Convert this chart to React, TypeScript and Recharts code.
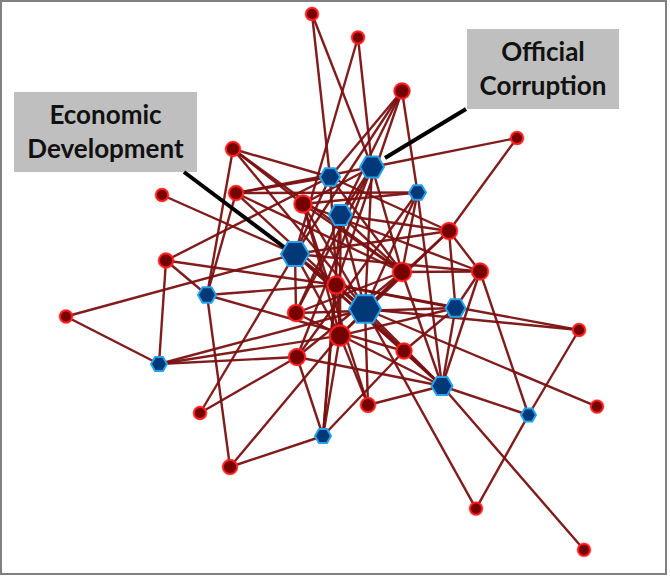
import React from 'react';
import { ScatterChart, Scatter, XAxis, YAxis, ReferenceLine, ReferenceArea } from 'recharts';

// node layout (x, y in layout units), w = relative importance
const redNodes = [
  { id: 'a', x: 312, y: 14, w: 6 },
  { id: 'b', x: 358, y: 37.5, w: 6 },
  { id: 'c', x: 402, y: 91, w: 7.5 },
  { id: 'd', x: 517, y: 138, w: 6 },
  { id: 'e', x: 233, y: 149, w: 7 },
  { id: 'f', x: 162, y: 195, w: 6 },
  { id: 'g', x: 236, y: 193, w: 7 },
  { id: 'h', x: 303, y: 204, w: 8.5 },
  { id: 'i', x: 449, y: 231, w: 8 },
  { id: 'j', x: 166, y: 260.5, w: 7 },
  { id: 'k', x: 402, y: 272, w: 9 },
  { id: 'l', x: 480, y: 271.5, w: 8 },
  { id: 'm', x: 336, y: 285, w: 8.5 },
  { id: 'n', x: 66, y: 316.5, w: 6 },
  { id: 'o', x: 296, y: 313, w: 8 },
  { id: 'p', x: 340, y: 335.6, w: 10 },
  { id: 'q', x: 579, y: 330, w: 6 },
  { id: 'r', x: 404, y: 351, w: 7.5 },
  { id: 's', x: 297, y: 357, w: 8 },
  { id: 't', x: 368, y: 405, w: 7 },
  { id: 'u', x: 597, y: 406.6, w: 6 },
  { id: 'v', x: 200, y: 413, w: 6 },
  { id: 'w', x: 230, y: 467, w: 7 },
  { id: 'x', x: 476, y: 508.6, w: 6 },
  { id: 'y', x: 584, y: 549.8, w: 6 },
];

const blueNodes = [
  { id: 'B1', x: 372, y: 167, w: 12 },
  { id: 'B2', x: 330, y: 177, w: 10 },
  { id: 'B3', x: 417.5, y: 192.5, w: 8.5 },
  { id: 'B4', x: 340.5, y: 215, w: 11.5 },
  { id: 'B5', x: 295, y: 254, w: 14 },
  { id: 'B6', x: 207, y: 295, w: 9 },
  { id: 'B7', x: 365, y: 309, w: 16 },
  { id: 'B8', x: 455.5, y: 308, w: 10 },
  { id: 'B9', x: 159, y: 364, w: 8 },
  { id: 'B10', x: 442, y: 386, w: 10.5 },
  { id: 'B11', x: 528.5, y: 415, w: 7.5 },
  { id: 'B12', x: 323, y: 436, w: 8 },
];

const edges: [string, string][] = [
  ['a', 'B2'], ['a', 'B1'], ['b', 'B5'], ['b', 'B1'],
  ['c', 'B2'], ['c', 'B5'], ['c', 'B4'], ['c', 'm'], ['c', 'B3'],
  ['d', 'B1'], ['d', 'i'],
  ['e', 'B6'], ['e', 'B2'], ['e', 'h'], ['e', 'k'], ['e', 'B7'],
  ['f', 'B5'],
  ['g', 'B3'], ['g', 'B2'], ['g', 'B6'], ['g', 'm'], ['g', 'k'],
  ['j', 'B2'], ['j', 'B6'], ['j', 'B9'], ['j', 'm'],
  ['n', 'B5'], ['n', 'B9'],
  ['B9', 's'], ['B9', 'p'], ['B9', 'B7'],
  ['B6', 'm'], ['B6', 'r'], ['B6', 'w'],
  ['v', 's'], ['v', 'B5'],
  ['w', 'B12'], ['w', 'p'],
  ['B12', 's'], ['B12', 'p'], ['B12', 'm'], ['B12', 'r'], ['B12', 'B4'],
  ['t', 'B10'], ['t', 'B7'], ['t', 'p'], ['t', 'h'],
  ['x', 'B11'], ['x', 'B7'], ['y', 'B10'], ['u', 'B7'],
  ['q', 'B7'], ['q', 'm'], ['q', 'B11'],
  ['B11', 'l'], ['B11', 'B10'],
  ['l', 'B10'], ['l', 'i'], ['l', 'k'], ['l', 'B5'], ['l', 'h'], ['l', 'B8'],
  ['i', 'B4'], ['i', 'B2'], ['i', 'B5'], ['i', 'p'], ['i', 'B7'],
  ['B1', 'B4'], ['B1', 'B7'], ['B1', 'k'], ['B1', 'o'], ['B1', 'g'], ['B1', 'h'], ['B1', 's'],
  ['B2', 'k'], ['B2', 'p'], ['B2', 'B5'],
  ['B3', 'h'], ['B3', 'k'], ['B3', 'B7'], ['B3', 'B10'], ['B3', 's'],
  ['B4', 'k'], ['B4', 'p'], ['B4', 'B7'], ['B4', 'o'],
  ['B5', 'B7'], ['B5', 'p'], ['B5', 'B10'], ['B5', 'r'], ['B5', 'o'],
  ['h', 'B7'], ['h', 'p'], ['h', 'k'],
  ['o', 'B8'], ['o', 'k'], ['o', 'B10'],
  ['s', 'k'], ['s', 'B10'],
  ['m', 'B10'], ['m', 'B8'],
  ['r', 'B8'], ['r', 'B10'], ['k', 'B10'], ['p', 'B8'],
  ['B8', 'B10'], ['B8', 'i'], ['B7', 'B10'], ['k', 'p'], ['m', 'B7'],
];

const callouts = [
  { lines: ['Economic', 'Development'], x1: 14, x2: 197, y1: 92, y2: 172, ax: 184, ay: 172, bx: 292, by: 253 },
  { lines: ['Official', 'Corruption'], x1: 467, x2: 619, y1: 29, y2: 109, ax: 466, ay: 109, bx: 385, by: 158 },
];

const allNodes = [...redNodes, ...blueNodes];
const find = (id: string) => allNodes.find((n) => n.id === id)!;

const RedDot = (props: any) => {
  const { cx, cy, payload } = props;
  const r = payload.w;
  return (
    <g>
      <circle cx={cx} cy={cy} r={r + 1.6} fill="#ff2a2a" opacity={0.4} />
      <circle cx={cx} cy={cy} r={r} fill="#760000" stroke="#ff1c1c" strokeWidth={1.8} />
    </g>
  );
};

const BlueHex = (props: any) => {
  const { cx, cy, payload } = props;
  const r = payload.w;
  const pts = [0, 60, 120, 180, 240, 300]
    .map((a) => {
      const t = (a * Math.PI) / 180;
      return `${cx + r * Math.cos(t)},${cy + r * Math.sin(t)}`;
    })
    .join(' ');
  return <polygon points={pts} fill="#003878" stroke="#25a2ec" strokeWidth={2} strokeLinejoin="round" />;
};

const boxLabel = (lines: string[]) => (props: any) => {
  const { viewBox } = props;
  const cx = viewBox.x + viewBox.width / 2;
  const top = viewBox.y;
  return (
    <text
      x={cx}
      y={top}
      textAnchor="middle"
      fontFamily="Lato, 'Open Sans', sans-serif"
      fontWeight={700}
      fontSize={26}
      fill="#111"
    >
      <tspan x={cx} dy={32}>{lines[0]}</tspan>
      <tspan x={cx} dy={34}>{lines[1]}</tspan>
    </text>
  );
};

export default function App() {
  return (
    <div style={{ position: 'absolute', left: 0, top: 0, width: 670, height: 577, background: '#fff' }}>
      <ScatterChart width={670} height={577} margin={{ top: 0, right: 0, bottom: 0, left: 0 }}>
        <XAxis type="number" dataKey="x" domain={[0, 670]} hide />
        <YAxis type="number" dataKey="y" domain={[0, 577]} reversed hide />
        {callouts.map((c, i) => (
          <ReferenceArea
            key={'box' + i}
            x1={c.x1}
            x2={c.x2}
            y1={c.y1}
            y2={c.y2}
            fill="#bfbfbf"
            fillOpacity={1}
            stroke="none"
            label={boxLabel(c.lines)}
          />
        ))}
        {edges.map(([s, t], i) => {
          const a = find(s);
          const b = find(t);
          return (
            <ReferenceLine
              key={'e' + i}
              segment={[{ x: a.x, y: a.y }, { x: b.x, y: b.y }]}
              stroke="#7a1010"
              strokeWidth={2.4}
              strokeOpacity={0.95}
            />
          );
        })}
        <Scatter data={redNodes} shape={RedDot} isAnimationActive={false} />
        <Scatter data={blueNodes} shape={BlueHex} isAnimationActive={false} />
        {callouts.map((c, i) => (
          <ReferenceLine
            key={'ptr' + i}
            segment={[{ x: c.ax, y: c.ay }, { x: c.bx, y: c.by }]}
            stroke="#000"
            strokeWidth={4}
          />
        ))}
      </ScatterChart>
      <div
        style={{
          position: 'absolute',
          left: 0,
          top: 0,
          width: 667,
          height: 575,
          border: '2px solid #808080',
          boxSizing: 'border-box',
          pointerEvents: 'none',
        }}
      />
    </div>
  );
}
